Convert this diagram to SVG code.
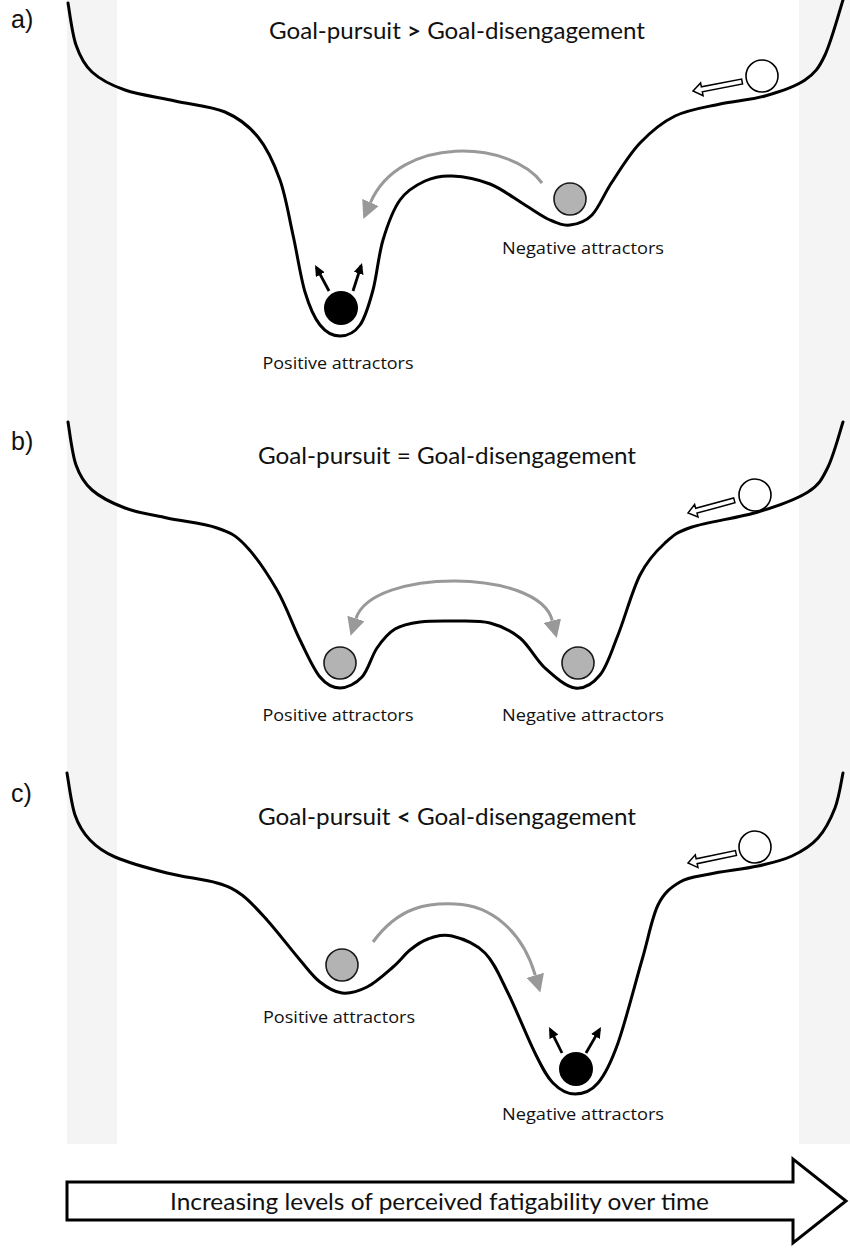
<svg xmlns="http://www.w3.org/2000/svg" width="850" height="1257" viewBox="0 0 850 1257">
<style>
.land{fill:none;stroke:#000;stroke-width:3;stroke-linecap:round;stroke-linejoin:round}
.white{fill:#fff;stroke:#000;stroke-width:1.6}
.grey{fill:#b3b3b3;stroke:#1a1a1a;stroke-width:1.6}
.black{fill:#000}
.garrow{fill:none;stroke:#999;stroke-width:3}
.karrow{fill:none;stroke:#000;stroke-width:2.8}
.hollow{fill:#fff;stroke:#000;stroke-width:1.5;stroke-linejoin:miter}
.title{font-family:Lato,"Open Sans",sans-serif;font-size:22.5px;fill:#111;text-anchor:middle}
.lbl{font-family:"Open Sans","Noto Sans",sans-serif;font-size:17px;fill:#111;text-anchor:middle}
.pl{font-family:"Liberation Sans",Arial,sans-serif;font-size:25px;fill:#111}
.time{font-family:Lato,"Open Sans",sans-serif;font-size:23.5px;fill:#111}
</style>
<defs>
<marker id="gh" markerUnits="userSpaceOnUse" viewBox="0 0 18 18" markerWidth="18" markerHeight="18" refX="0" refY="9" orient="auto-start-reverse"><path d="M0,0 L18,9 L0,18 Z" fill="#999"/></marker>
<marker id="kh" markerUnits="userSpaceOnUse" viewBox="0 0 11 10" markerWidth="11" markerHeight="10" refX="8" refY="5" orient="auto"><path d="M0,0 L11,5 L0,10 Z" fill="#000"/></marker>
<polygon id="hollowArrow" class="hollow" points="0,0 9,-6.5 9,-2.5 50,-2.5 50,2.5 9,2.5 9,6.5"/>
</defs>

<g id="background">
<rect x="67" y="0" width="783" height="1144" fill="#f4f4f4"/>
<rect x="117" y="0" width="682" height="1144" fill="#fff"/>
</g>

<g id="panel-a">
<text class="pl" x="11" y="28">a)</text>
<text class="title" x="457" y="39" textLength="376" lengthAdjust="spacingAndGlyphs">Goal-pursuit <tspan font-weight="bold">&gt;</tspan> Goal-disengagement</text>
<path id="landscape-a" class="land" d="M68,3 C69.3,10 72,33.5 76,45 C80,56.5 83.8,64.5 92,72 C100.2,79.5 111.2,85.2 125,90 C138.8,94.8 158.3,97.3 175,101 C191.7,104.7 211.2,106 225,112 C238.8,118 248.8,125.7 258,137 C267.2,148.3 274.2,163.7 280,180 C285.8,196.3 288.8,216.3 293,235 C297.2,253.7 300.5,277 305,292 C309.5,307 314.2,317.7 320,325 C325.8,332.3 333.3,336 340,336 C346.7,336 354.5,332.7 360,325 C365.5,317.3 369.2,304.2 373,290 C376.8,275.8 378.5,255 383,240 C387.5,225 393,209.8 400,200 C407,190.2 416.3,185 425,181 C433.7,177 441.2,175.5 452,176 C462.8,176.5 477.8,179.2 490,184 C502.2,188.8 515,199 525,205 C535,211 542.5,216.7 550,220 C557.5,223.3 563,225.8 570,225 C577,224.2 585,222.2 592,215 C599,207.8 604,194 612,182 C620,170 629.5,154 640,143 C650.5,132 661.7,122.5 675,116 C688.3,109.5 705,107.3 720,104 C735,100.7 750.8,100 765,96 C779.2,92 795,86.8 805,80 C815,73.2 818.7,68.3 825,55 C831.3,41.7 840,9.2 843,0"/>
<g id="a-start-ball"><circle class="white" cx="762" cy="76" r="16"/></g>
<g id="a-negative"><circle class="grey" cx="570" cy="199" r="16"/><text class="lbl" x="583" y="254" textLength="162" lengthAdjust="spacingAndGlyphs">Negative attractors</text></g>
<g id="a-positive"><circle class="black" cx="341" cy="308" r="17"/><text class="lbl" x="338" y="369" textLength="151" lengthAdjust="spacingAndGlyphs">Positive attractors</text></g>
</g>

<g id="panel-b">
<text class="pl" x="11" y="450">b)</text>
<text class="title" x="447" y="464" textLength="378" lengthAdjust="spacingAndGlyphs">Goal-pursuit = Goal-disengagement</text>
<path id="landscape-b" class="land" d="M68,422 C69.3,429.2 72,453.7 76,465 C80,476.3 83.8,482.8 92,490 C100.2,497.2 112.5,503.3 125,508 C137.5,512.7 151.7,514.7 167,518 C182.3,521.3 204,523.5 217,528 C230,532.5 235,534.7 245,545 C255,555.3 267.8,574.2 277,590 C286.2,605.8 292.8,625.5 300,640 C307.2,654.5 313.3,669 320,677 C326.7,685 333,688 340,688 C347,688 355.8,683.7 362,677 C368.2,670.3 371.5,656 377,648 C382.5,640 387.8,633.3 395,629 C402.2,624.7 410,623.3 420,622 C430,620.7 443.3,620.8 455,621 C466.7,621.2 479.2,620.2 490,623 C500.8,625.8 510.8,630.5 520,638 C529.2,645.5 535.8,659.7 545,668 C554.2,676.3 565.8,686.8 575,688 C584.2,689.2 592.8,683.8 600,675 C607.2,666.2 611.3,651.7 618,635 C624.7,618.3 632.2,590.3 640,575 C647.8,559.7 656.3,551 665,543 C673.7,535 676.5,532.2 692,527 C707.5,521.8 738.7,517.8 758,512 C777.3,506.2 796.3,499.5 808,492 C819.7,484.5 822.2,478.7 828,467 C833.8,455.3 840.5,429.5 843,422"/>
<g id="b-start-ball"><circle class="white" cx="755" cy="495" r="16"/></g>
<g id="b-positive"><circle class="grey" cx="340" cy="663" r="16"/><text class="lbl" x="338" y="721" textLength="151" lengthAdjust="spacingAndGlyphs">Positive attractors</text></g>
<g id="b-negative"><circle class="grey" cx="578" cy="663" r="16"/><text class="lbl" x="583" y="721" textLength="162" lengthAdjust="spacingAndGlyphs">Negative attractors</text></g>
</g>

<g id="panel-c">
<text class="pl" x="11" y="802">c)</text>
<text class="title" x="447" y="825" textLength="378" lengthAdjust="spacingAndGlyphs">Goal-pursuit <tspan font-weight="bold">&lt;</tspan> Goal-disengagement</text>
<path id="landscape-c" class="land" d="M67,773 C68.3,780 71.2,803.8 75,815 C78.8,826.2 83.3,833 90,840 C96.7,847 102.2,851.5 115,857 C127.8,862.5 150,868.7 167,873 C184,877.3 204.5,879.3 217,883 C229.5,886.7 233.7,888.8 242,895 C250.3,901.2 257.3,909.2 267,920 C276.7,930.8 291.2,949.7 300,960 C308.8,970.3 313,976.5 320,982 C327,987.5 334.2,992.2 342,993 C349.8,993.8 358.5,991.3 367,987 C375.5,982.7 385.8,973.2 393,967 C400.2,960.8 404.2,954.7 410,950 C415.8,945.3 421,941.3 428,939 C435,936.7 442.5,933.7 452,936 C461.5,938.3 475.7,943.5 485,953 C494.3,962.5 499.7,976.3 508,993 C516.3,1009.7 527.5,1038 535,1053 C542.5,1068 546.3,1076.2 553,1083 C559.7,1089.8 567.5,1094 575,1094 C582.5,1094 590.8,1091.5 598,1083 C605.2,1074.5 610.7,1063.5 618,1043 C625.3,1022.5 635.3,983 642,960 C648.7,937 651.7,918 658,905 C664.3,892 671.3,887.2 680,882 C688.7,876.8 697,876.7 710,874 C723,871.3 744.3,869 758,866 C771.7,863 782,860.7 792,856 C802,851.3 810.8,846 818,838 C825.2,830 830.8,818.8 835,808 C839.2,797.2 841.7,778.8 843,773"/>
<g id="c-start-ball"><circle class="white" cx="755" cy="847" r="16"/></g>
<g id="c-positive"><circle class="grey" cx="342" cy="965" r="16"/><text class="lbl" x="339" y="1023" textLength="152" lengthAdjust="spacingAndGlyphs">Positive attractors</text></g>
<g id="c-negative"><circle class="black" cx="576" cy="1069" r="17"/><text class="lbl" x="583" y="1120" textLength="162" lengthAdjust="spacingAndGlyphs">Negative attractors</text></g>
</g>

<g id="connectors">
<path class="garrow" marker-end="url(#gh)" d="M542,183 C510,140 400,135 370.5,202.5"/>
<path class="garrow" marker-start="url(#gh)" marker-end="url(#gh)" d="M356,618.5 C372,568 539,568 552.3,620.6"/>
<path class="garrow" marker-end="url(#gh)" d="M373,942 C400,905 430,903 455,904 C490,905 522,930 535.3,975.3"/>
<use href="#hollowArrow" transform="translate(693,91) rotate(-10.9)"/>
<use href="#hollowArrow" transform="translate(688,513) rotate(-15.2) scale(0.96,1)"/>
<use href="#hollowArrow" transform="translate(688,863) rotate(-11.8) scale(0.98,1)"/>
<line class="karrow" marker-end="url(#kh)" x1="329" y1="291" x2="316.5" y2="267.6"/>
<line class="karrow" marker-end="url(#kh)" x1="353" y1="291" x2="361.1" y2="265.8"/>
<line class="karrow" marker-end="url(#kh)" x1="562" y1="1053" x2="550.4" y2="1029.7"/>
<line class="karrow" marker-end="url(#kh)" x1="586" y1="1053" x2="599.5" y2="1029.6"/>
</g>

<g id="time-arrow">
<polygon points="67,1182 793,1182 793,1159 846,1201 793,1243 793,1220 67,1220" fill="#fff" stroke="#000" stroke-width="3" stroke-linejoin="miter"/>
<text class="time" x="170" y="1210" textLength="539" lengthAdjust="spacingAndGlyphs">Increasing levels of perceived fatigability over time</text>
</g>
</svg>
